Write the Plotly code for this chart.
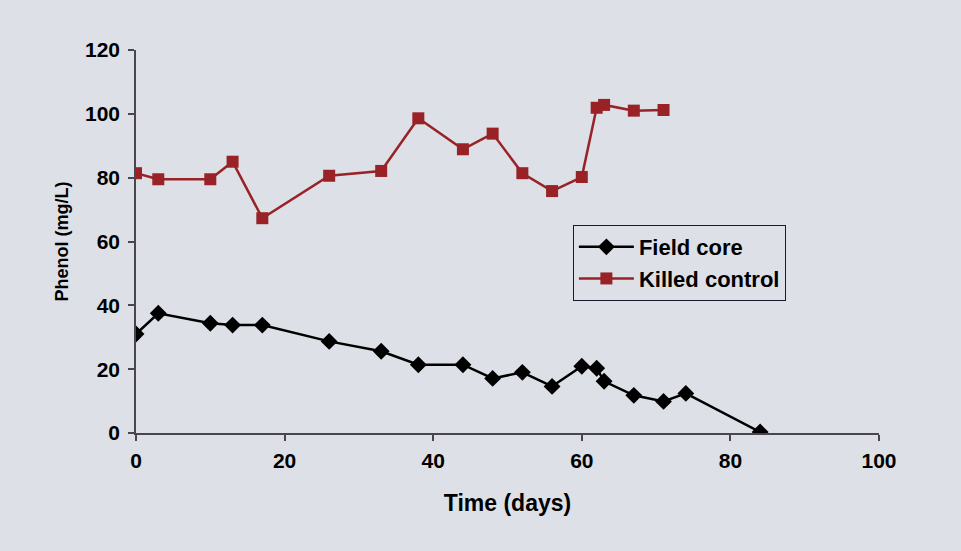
import plotly.graph_objects as go

field_days = [0, 3, 10, 13, 17, 26, 33, 38, 44, 48, 52, 56, 60, 62, 63, 67, 71, 74, 84]
field_core = [31, 37.5, 34.4, 33.8, 33.8, 28.7, 25.6, 21.4, 21.4, 17.1, 19.0, 14.6, 20.9, 20.3, 16.2, 11.8, 9.9, 12.4, 0.3]

killed_days = [0, 3, 10, 13, 17, 26, 33, 38, 44, 48, 52, 56, 60, 62, 63, 67, 71]
killed_control = [81.4, 79.5, 79.5, 85.0, 67.3, 80.6, 82.1, 98.6, 88.9, 93.8, 81.4, 75.8, 80.2, 101.9, 102.8, 101.0, 101.2]

x_ticks = [0, 20, 40, 60, 80, 100]
y_ticks = [0, 20, 40, 60, 80, 100, 120]

BG = "#dde0e7"
AX = "#4a4650"
RED = "#982226"
FONT = "Liberation Sans"

fig = go.Figure()
fig.add_trace(go.Scatter(
    x=field_days, y=field_core, mode="lines+markers", name="Field core",
    line=dict(color="#000000", width=2.5),
    marker=dict(symbol="diamond", size=13, color="#000000"),
))
fig.add_trace(go.Scatter(
    x=killed_days, y=killed_control, mode="lines+markers", name="Killed control",
    line=dict(color=RED, width=2.5),
    marker=dict(symbol="square", size=12, color=RED),
))

fig.update_layout(
    width=961, height=551,
    paper_bgcolor=BG, plot_bgcolor=BG,
    margin=dict(l=136, r=82, t=50, b=118),
    font=dict(family=FONT, size=21, color="#000000", weight="bold"),
    showlegend=True,
    legend=dict(
        x=0.588, y=0.543, xanchor="left", yanchor="top",
        bgcolor="rgba(0,0,0,0)", bordercolor="#1a1a2a", borderwidth=1,
        font=dict(family=FONT, size=22, color="#000000", weight="bold"),
        itemwidth=55, tracegroupgap=0,
    ),
    xaxis=dict(
        range=[0, 100], tickvals=x_ticks, ticktext=[str(v) for v in x_ticks],
        showgrid=False, zeroline=False, showline=True, linecolor=AX, linewidth=1.5,
        ticks="outside", ticklen=6, tickcolor=AX, tickwidth=1.5,
        tickfont=dict(family=FONT, size=21, weight="bold"), ticklabelstandoff=2,
        title=dict(text="Time (days)", font=dict(family=FONT, size=23, weight="bold"), standoff=24),
    ),
    yaxis=dict(
        range=[0, 120], tickvals=y_ticks, ticktext=[str(v) for v in y_ticks],
        showgrid=False, zeroline=False, showline=True, linecolor=AX, linewidth=1.5,
        ticks="outside", ticklen=6, tickcolor=AX, tickwidth=1.5,
        tickfont=dict(family=FONT, size=21, weight="bold"), ticklabelstandoff=4,
        title=dict(text="Phenol (mg/L)", font=dict(family=FONT, size=18, weight="bold"), standoff=12),
    ),
)

fig.write_html("out.html")
